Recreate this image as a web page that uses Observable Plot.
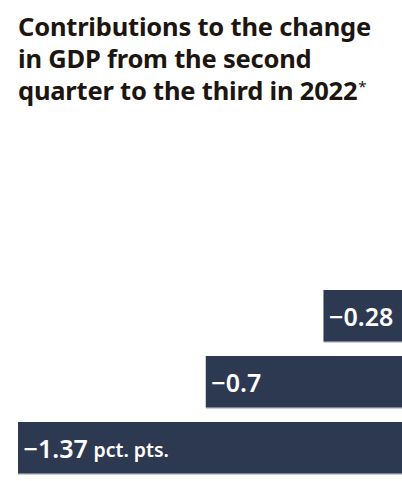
<!DOCTYPE html>
<html>
<head>
<meta charset="utf-8">
<script src="https://cdn.jsdelivr.net/npm/d3@7"></script>
<script src="https://cdn.jsdelivr.net/npm/@observablehq/plot@0.6"></script>
<style>
  html, body { margin: 0; padding: 0; background: #fff; }
  #wrap { width: 402px; height: 481px; overflow: hidden; }
  #title {
    box-sizing: border-box; height: 110px; padding: 10px 0 0 18px;
    font-family: "Noto Sans", sans-serif; font-weight: 700; font-size: 25.5px;
    line-height: 32px; color: #1d1510; letter-spacing: -0.2px; white-space: nowrap;
  }
  #title sup { font-size: 15px; font-weight: 400; vertical-align: top; position: relative; top: -4px; margin-left: 1px; }
  svg { display: block; }
</style>
</head>
<body>
<div id="wrap">
  <div id="title">Contributions to the change<br>in GDP from the second<br>quarter to the third in 2022<sup>*</sup></div>
  <div id="chart"></div>
</div>
<script>
const categories = ["Component 1", "Component 2", "Component 3"];
const values = [-0.28, -0.7, -1.37];
const labels = ["−0.28", "−0.7", "−1.37"];
const unitLabel = "pct. pts.";

const data = categories.map((c, i) => ({category: c, value: values[i], label: labels[i]}));
const last = [data[data.length - 1]];

const barColor = "#2d3950";

const chart = Plot.plot({
  width: 402,
  height: 372,
  marginTop: 173,
  marginBottom: 0,
  marginLeft: 18,
  marginRight: 0,
  x: {domain: [-1.37, 0], axis: null},
  y: {domain: categories, axis: null, paddingInner: 0.2, paddingOuter: 0.1},
  style: {fontFamily: "Noto Sans, sans-serif"},
  marks: [
    Plot.barX(data, {y: "category", x1: 0, x2: "value", fill: "#c9cdd6"}),
    Plot.barX(data, {y: "category", x1: 0, x2: "value", fill: barColor, insetBottom: 1.5}),
    Plot.text(data, {
      y: "category", x: "value", text: "label", textAnchor: "start", dx: 5, dy: 1,
      fill: "white", fontSize: 25, fontWeight: 600
    }),
    Plot.text(last, {
      y: "category", x: "value", text: () => unitLabel, textAnchor: "start", dx: 75, dy: 2,
      fill: "white", fontSize: 19.5, fontWeight: 600
    })
  ]
});
document.getElementById("chart").appendChild(chart);
</script>
</body>
</html>
